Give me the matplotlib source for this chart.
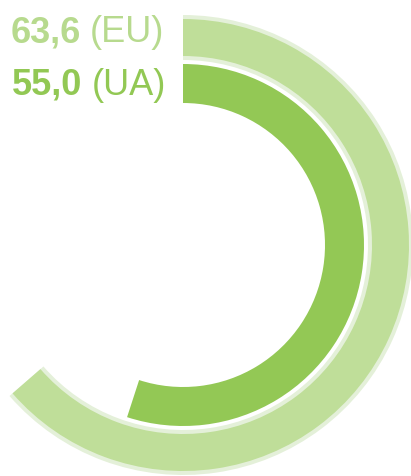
import matplotlib
matplotlib.use('Agg')
import matplotlib.pyplot as plt
from matplotlib.patches import Wedge

# data
regions = ['EU', 'UA']
values = [63.6, 55.0]
labels = ['63,6', '55,0']

W, H = 411, 477
cx, cy = 183, H - 246          # centre of the rings (data == pixels)

light = '#bfde99'
pale = '#e4f0d9'
dark = '#93c855'
text_colors = ['#b7da8e', '#92c854']

# ring geometry: (outer radius, width)
rings = [(226, 37), (181, 39)]
ring_colors = [light, dark]

fig = plt.figure(figsize=(W / 100, H / 100), dpi=100)
ax = fig.add_axes([0, 0, 1, 1])
ax.set_xlim(0, W)
ax.set_ylim(0, H)
ax.axis('off')

for i, v in enumerate(values):
    sweep = v / 100 * 360
    r, w = rings[i]
    if i == 0:
        # soft halo along both edges of the EU ring
        ax.add_patch(Wedge((cx, cy), r + 4, 90 - sweep, 90, width=w + 8,
                           facecolor=pale, edgecolor='none'))
    ax.add_patch(Wedge((cx, cy), r, 90 - sweep, 90, width=w,
                       facecolor=ring_colors[i], edgecolor='none'))

baselines = [H - 42, H - 95]
right_edges = [164, 166]
fs = 26
fig.canvas.draw()
for i in range(len(values)):
    t = ax.text(right_edges[i], baselines[i], '(%s)' % regions[i], ha='right', va='baseline',
                fontsize=fs, family='Liberation Sans', color=text_colors[i])
    bb = t.get_window_extent(renderer=fig.canvas.get_renderer())
    ax.text(bb.x0 - 9, baselines[i], labels[i], ha='right', va='baseline',
            fontsize=fs, family='Liberation Sans', fontweight='bold', color=text_colors[i])

fig.savefig('out.png', dpi=100)
